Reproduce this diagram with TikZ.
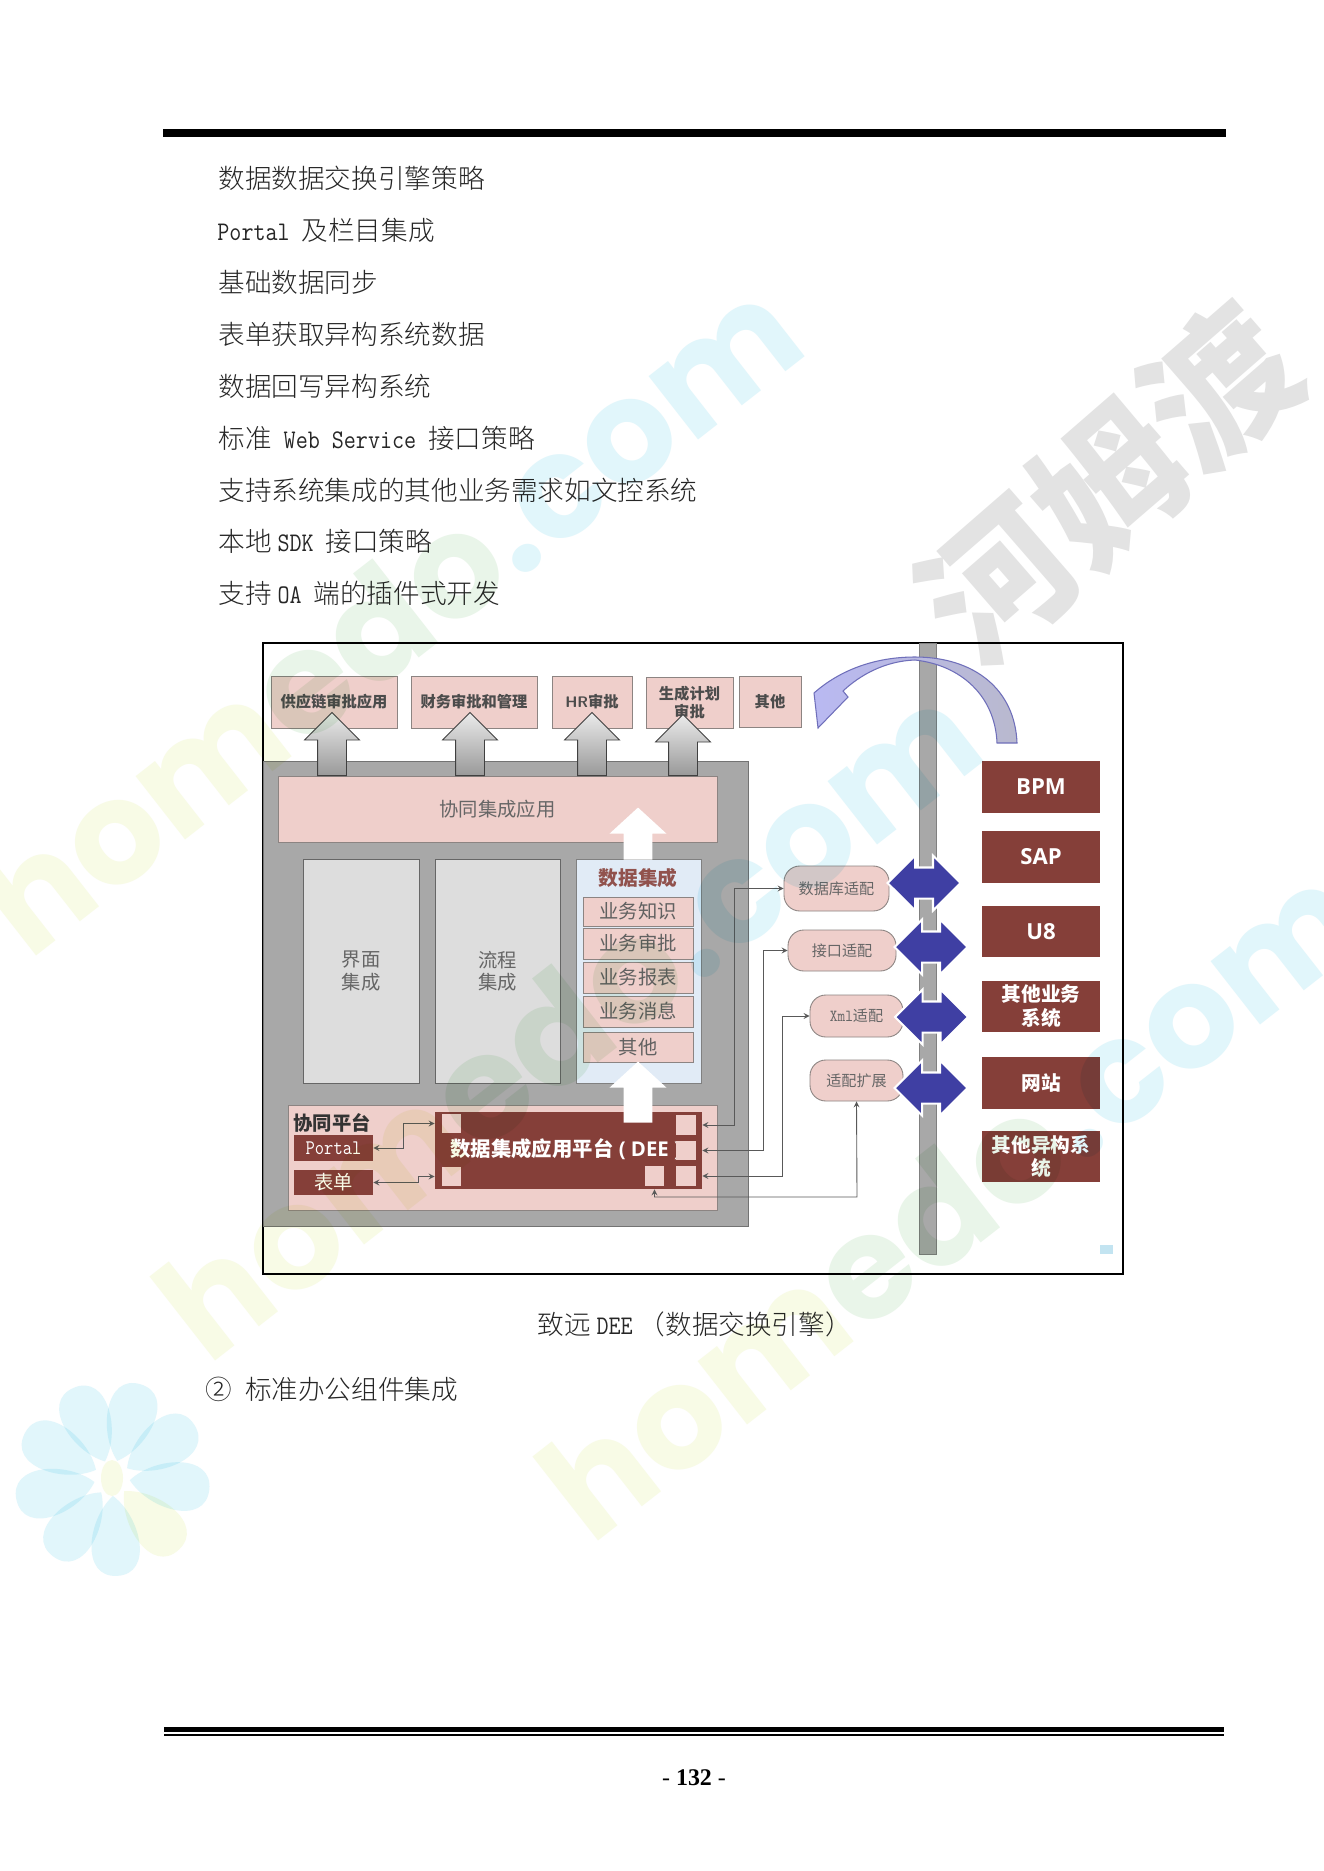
\documentclass[tikz,border=0pt]{standalone}
\usepackage{fontspec}
\setmainfont{Noto Sans CJK SC}
\newfontfamily\bodyfont{Noto Sans CJK SC Light}
\newfontfamily\capfont{Open Sans}
\newfontfamily\pagefont{Liberation Serif}
\newfontfamily\markfont{Poppins}
\newfontfamily\latinmono[FakeStretch=0.87]{Latin Modern Mono}
\usetikzlibrary{shapes.arrows}
\newcommand{\px}{0.02cm}
\newcommand{\fs}[1]{\fontsize{#1}{#1}\selectfont}
\newcommand{\mono}[1]{{\latinmono\fontsize{15.3}{17}\selectfont #1}}
\definecolor{pinkfill}{HTML}{EFCFCB}
\definecolor{brick}{HTML}{853F39}
\definecolor{panelgray}{HTML}{A8A8A8}
\definecolor{cellgray}{HTML}{DDDDDD}
\definecolor{linegray}{HTML}{8C8482}
\definecolor{royal}{HTML}{3F3FA3}
\definecolor{paleblue}{HTML}{E1EBF6}
\definecolor{curveleft}{HTML}{B9B9F2}
\definecolor{curveright}{HTML}{B9B9CE}
\definecolor{wmlime}{HTML}{F8FBE6}
\definecolor{wmgreen}{HTML}{E9F5E9}
\definecolor{wmcyan}{HTML}{E1F6FB}
\tikzset{
every picture/.style={line width=0.5pt, >=stealth},
sized/.style 2 args={minimum width=#1*\px, minimum height=#2*\px, inner sep=0pt},
%%%%%%%%%% Text on the page
bodyline/.style={anchor=west, inner sep=0pt, font=\bodyfont\fs{15.15}, text=black!85},
%%%%%%%%%% Boxes
appbox/.style={draw=linegray, fill=pinkfill, align=center, text=black!70,
               font=\bfseries\fontsize{8.7}{10.5}\selectfont},
pinkbar/.style={draw=linegray, fill=pinkfill, text=black!60, font=\fs{11}},
cell/.style={draw=black!60, fill=cellgray, align=center, text=black!60,
             font=\fontsize{11}{12.6}\selectfont},
rowbox/.style={draw=linegray, fill=pinkfill, text=black!62, font=\fs{11}},
darkbox/.style={fill=brick, text=white, align=center,
                font=\bfseries\fontsize{11.2}{13.6}\selectfont},
port/.style={fill=pinkfill, draw=none, minimum size=19.5*\px, inner sep=0pt},
adapter/.style={rounded corners=9pt, draw=linegray, fill=pinkfill,
                text=black!60, font=\fs{8.6}},
%%%%%%%%%% Arrows
upgray/.style={single arrow, rotate=90, anchor=tail, draw=black!75, top color=black!8,
               bottom color=black!40, inner xsep=0pt, inner ysep=14*\px,
               single arrow head extend=13*\px, single arrow tip angle=90},
upwhite/.style={single arrow, rotate=90, anchor=tail, fill=white, inner xsep=0pt,
                inner ysep=14*\px, single arrow head extend=14*\px,
                single arrow tip angle=95},
twoway/.style={double arrow, fill=royal, draw=white, line width=1.2pt, inner xsep=0pt,
               inner ysep=14.5*\px, minimum height=73*\px,
               double arrow head extend=12*\px, double arrow tip angle=90},
link/.style={<->, draw=black!65},
%%%%%%%%%% Watermark
wmletters/.style={font=\markfont\bfseries\fs{82}, rotate=38, inner sep=0pt},
}
\newcommand{\homedo}{\textcolor{wmlime}{hom}\textcolor{wmgreen}{edo}\textcolor{wmcyan}{.com}}

\begin{document}
\begin{tikzpicture}[x=\px, y=-\px]
\useasboundingbox (0,0) rectangle (1323,1871);
\fill[white] (0,0) rectangle (1323,1871);
% page rules
\node[fill=black, sized={1063}{8}] (headrule) at (694.5,133) {};
\node[fill=black, sized={1060}{5}] (footrule) at (694,1729.5) {};
\node[fill=black, sized={1060}{2}] (footthin) at (694,1735) {};
% text above
\node[bodyline] (line1) at (218,178) {数据数据交换引擎策略};
\node[bodyline] (line2) at (217,230) {\mono{Portal }及栏目集成};
\node[bodyline] (line3) at (218,282) {基础数据同步};
\node[bodyline] (line4) at (218,334) {表单获取异构系统数据};
\node[bodyline] (line5) at (218,386) {数据回写异构系统};
\node[bodyline] (line6) at (218,438) {标准\mono{ Web Service }接口策略};
\node[bodyline] (line7) at (218,490) {支持系统集成的其他业务需求如文控系统};
\node[bodyline] (line8) at (218,541) {本地 \mono{SDK }接口策略};
\node[bodyline] (line9) at (218,593) {支持 \mono{OA }端的插件式开发};
% frame of the figure
\node[draw=black, line width=0.7pt, fill=white, sized={860}{631}] (frame) at (693,958.5) {};
% top row
\node[appbox, sized={126}{52}] (supply) at (334,702) {供应链审批应用};
\node[appbox, sized={126}{52}] (finance) at (474,702) {财务审批和管理};
\node[appbox, sized={80}{52}] (hr) at (592,702) {\textsf{HR}审批};
\node[appbox, sized={87}{51}] (plan) at (689.5,702.5) {生成计划\\审批};
\node[appbox, sized={62}{51}] (other) at (770,701.5) {其他};
% gray panel
\node[draw=black!55, fill=panelgray, sized={485}{465}] (panel) at (505.5,993.5) {};
\node[pinkbar, sized={439}{66}] (apps) at (497.5,809) {协同集成应用};
\node[cell, sized={116}{224}] (ui) at (361,971) {界面\\集成};
\node[cell, sized={125}{224}] (flow) at (497.5,971) {流程\\集成};
\node[draw=black!50, fill=paleblue, sized={125}{224}] (data) at (638.5,971) {};
\node[text=brick!90, font=\bfseries\fs{11.2}] (datatitle) at (638,878) {数据集成};
\node[rowbox, sized={110}{29}] (row1) at (638,911.5) {业务知识};
\node[rowbox, sized={110}{31}] (row2) at (638,943.5) {业务审批};
\node[rowbox, sized={110}{31}] (row3) at (638,977.5) {业务报表};
\node[rowbox, sized={110}{31}] (row4) at (638,1011.5) {业务消息};
\node[rowbox, sized={110}{30}] (row5) at (638,1047) {其他};
% up arrows
\node[upgray, minimum height=63*\px] (up1) at (332,776) {};
\node[upgray, minimum height=63*\px] (up2) at (470,776) {};
\node[upgray, minimum height=63*\px] (up3) at (592,776) {};
\node[upgray, minimum height=61*\px] (up4) at (683,776) {};
% platform
\node[draw=linegray, fill=pinkfill, sized={429}{105}] (platform) at (502.5,1157.5) {};
\node[anchor=west, inner sep=0pt, text=black!80, font=\bfseries\fs{11}] (platformtitle) at (293,1123) {协同平台};
\node[darkbox, sized={79}{26}, font=\latinmono\fontsize{11.8}{13}\selectfont] (portal) at (333.5,1148) {Portal};
\node[darkbox, sized={79}{25}, font=\fs{11}] (form) at (333.5,1182.5) {表单};
\node[fill=brick, sized={267}{77}] (dee) at (568.5,1150.5) {};
\node[anchor=west, inner sep=0pt, text=white, font=\bfseries\fs{11.6}] (deetext) at (450,1149) {数据集成应用平台\hspace{3pt}{\capfont ( DEE )}};
\node[port] (sqtl) at (451.5,1123.5) {};
\node[port] (sqbl) at (451.5,1176.5) {};
\node[port] (sqtr) at (686,1125) {};
\node[port] (sqmr) at (686,1150.5) {};
\node[port] (sqbr) at (686,1176) {};
\node[port] (sqbm) at (654.5,1176) {};
\node[upwhite, minimum height=52*\px] (datainto) at (638,860) {};
\node[upwhite, minimum height=61*\px] (deeinto) at (638,1123) {};
% bus and adapters
\node[draw=black!50, fill=panelgray, sized={17}{611}] (bus) at (927.5,948.5) {};
\node[adapter, sized={105}{45}] (dbadapter) at (836.5,888.5) {数据库适配};
\node[adapter, sized={108}{41}] (ifadapter) at (842,950.5) {接口适配};
\node[adapter, sized={93}{42}] (xmladapter) at (856.5,1016) {{\latinmono\fontsize{9.6}{10}\selectfont Xml}适配};
\node[adapter, sized={93}{41}] (extadapter) at (856.5,1080.5) {适配扩展};
\node[twoway] (flow1) at (924,883) {};
\node[twoway] (flow2) at (931,947) {};
\node[twoway] (flow3) at (931.5,1017) {};
\node[twoway] (flow4) at (931,1088) {};
% outer systems
\node[darkbox, sized={118}{52}, font=\capfont\bfseries\fs{12.6}] (bpm) at (1041,787) {BPM};
\node[darkbox, sized={118}{52}, font=\capfont\bfseries\fs{12.6}] (sap) at (1041,857) {SAP};
\node[darkbox, sized={118}{51}, font=\capfont\bfseries\fs{12.6}] (ueight) at (1041,931.5) {U8};
\node[darkbox, sized={118}{51}] (bizsys) at (1041,1006.5) {其他业务\\系统};
\node[darkbox, sized={118}{52}] (website) at (1041,1083) {网站};
\node[darkbox, sized={118}{51}] (hetero) at (1041,1156.5) {其他异构系\\统};
\node[fill=black!20!cyan!25!white, sized={13}{9}] (dot) at (1106.5,1249.5) {};
% curved arrow
\draw[draw=royal!75, left color=curveleft, right color=curveright, line width=0.6pt]
  (1017,743) .. controls (1015,690) and (975,657) .. (915,657)
  .. controls (875,657) and (840,670) .. (814,693) -- (818,728) -- (848,697) -- (843,691)
  .. controls (860,675) and (885,661) .. (915,660)
  .. controls (960,665) and (995,695) .. (997,743) -- cycle;
% connectors
\coordinate (lane1) at (734,0);
\coordinate (lane2) at (763,0);
\coordinate (lane3) at (782,0);
\coordinate (lane4) at (857,1197);
\coordinate (lane5) at (403,0);
\coordinate (lane6) at (418,0);
\draw[link] (dee.east|-sqtr) -| (lane1|-dbadapter) -- (dbadapter.west);
\draw[link] (dee.east|-sqmr) -| (lane2|-ifadapter) -- (ifadapter.west);
\draw[link] (dee.east|-sqbr) -| (lane3|-xmladapter) -- (xmladapter.west);
\draw[link] (sqbm|-dee.south) |- (lane4) -- (extadapter.south);
\draw[link] (dee.west|-sqtl) -| (lane5|-portal) -- (portal.east);
\draw[link] (dee.west|-sqbl) -| (lane6|-form) -- (form.east);
% text below
\node[bodyline] (caption) at (537,1324) {致远 \mono{DEE}\hspace{3.5pt}（数据交换引擎）};
\node[bodyline] (heading) at (205,1389) {②\hspace{7.4pt}标准办公组件集成};
\node[inner sep=0pt, font=\pagefont\fs{13.6}] (pageno) at (694,1778) {- \textbf{132} -};
% watermark
\begin{scope}[blend mode=multiply]
\node[wmletters] (wma) at (388,615) {\homedo};
\node[wmletters] (wmb) at (567,1020) {\homedo};
\node[wmletters] (wmc) at (950,1200) {\homedo};
\node[rotate=41, inner sep=0pt, text=black!11, font=\bfseries\fs{84}] (wmcn) at (1108,483) {河姆渡};
\foreach \a in {73,33,-7,-87,-127,-167,153,113}
  \fill[wmcyan, shift={(112,1478)}, rotate=\a]
    (18,0) .. controls (40,-27) and (98,-37) .. (98,0) .. controls (98,37) and (40,27) .. (18,0);
\fill[wmlime, shift={(112,1478)}, rotate=-47]
    (18,0) .. controls (40,-27) and (98,-37) .. (98,0) .. controls (98,37) and (40,27) .. (18,0);
\fill[wmlime] (112,1478) ellipse (11 and 18);
\end{scope}
\end{tikzpicture}
\end{document}
